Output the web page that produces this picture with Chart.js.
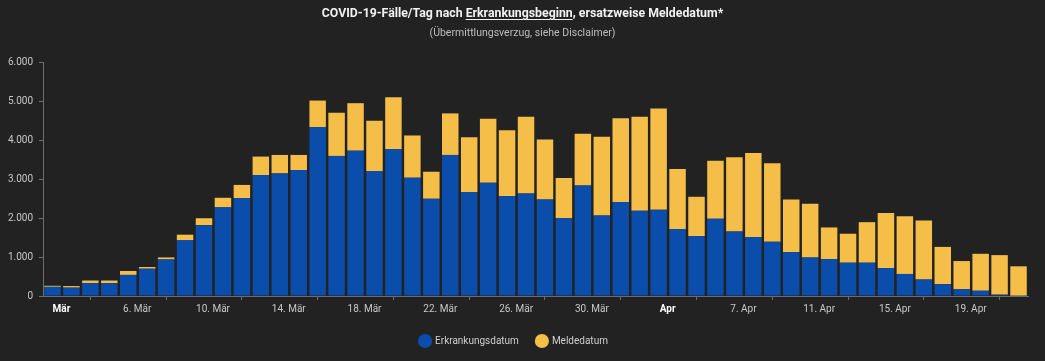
<!DOCTYPE html>
<html lang="de">
<head>
<meta charset="utf-8">
<script src="https://cdn.jsdelivr.net/npm/chart.js@4/dist/chart.umd.min.js"></script>
<style>
  html, body { margin: 0; padding: 0; background: #222222; }
  #wrap { position: relative; width: 1045px; height: 361px; }
  #title { position: absolute; top: 6px; left: 0; width: 1045px; text-align: center;
           font: bold 12.3px Roboto, sans-serif; color: #f2f2f2; }
  #title u { text-decoration-thickness: 1px; text-underline-offset: 2px; }
  #subtitle { position: absolute; top: 26px; left: 0; width: 1045px; text-align: center;
              font: 10.5px Roboto, sans-serif; color: #bdbdbd; }
</style>
</head>
<body>
<div id="wrap">
  <canvas id="chart" width="1045" height="361"></canvas>
  <div id="title">COVID-19-Fälle/Tag nach <u>Erkrankungsbeginn</u>, ersatzweise Meldedatum*</div>
  <div id="subtitle">(Übermittlungsverzug, siehe Disclaimer)</div>
</div>
<script>
// Tage (2. März bis 22. April)
const days = [
  '2. Mär', '3. Mär', '4. Mär', '5. Mär', '6. Mär', '7. Mär', '8. Mär', '9. Mär', '10. Mär',
  '11. Mär', '12. Mär', '13. Mär', '14. Mär', '15. Mär', '16. Mär', '17. Mär', '18. Mär',
  '19. Mär', '20. Mär', '21. Mär', '22. Mär', '23. Mär', '24. Mär', '25. Mär', '26. Mär',
  '27. Mär', '28. Mär', '29. Mär', '30. Mär', '31. Mär',
  '1. Apr', '2. Apr', '3. Apr', '4. Apr', '5. Apr', '6. Apr', '7. Apr', '8. Apr', '9. Apr',
  '10. Apr', '11. Apr', '12. Apr', '13. Apr', '14. Apr', '15. Apr', '16. Apr', '17. Apr',
  '18. Apr', '19. Apr', '20. Apr', '21. Apr', '22. Apr'
];

// Beschriftung jeder vierten Kategorie
const tickLabels = ['Mär', '6. Mär', '10. Mär', '14. Mär', '18. Mär', '22. Mär', '26. Mär',
  '30. Mär', 'Apr', '7. Apr', '11. Apr', '15. Apr', '19. Apr'];
const boldLabels = ['Mär', 'Apr'];

// Fälle nach Erkrankungsdatum
const erkrankung = [
  235, 215, 330, 330, 541, 700, 938, 1428, 1817, 2273, 2510, 3101, 3144, 3228, 4327, 3592,
  3727, 3203, 3761, 3034, 2493, 3617, 2662, 2907, 2561, 2628, 2476, 1994, 2831, 2062,
  2408, 2189, 2214, 1720, 1538, 1978, 1656, 1513, 1394, 1124, 989, 946, 854, 854, 718, 566,
  423, 304, 177, 135, 34, 5
];

// Fälle nach Meldedatum (ersatzweise)
const meldung = [
  27, 40, 67, 67, 101, 44, 51, 144, 177, 245, 338, 474, 473, 389, 684, 1107,
  1217, 1293, 1335, 1082, 693, 1065, 1411, 1640, 1690, 1969, 1538, 1031, 1327, 2020,
  2147, 2408, 2595, 1534, 1006, 1487, 1902, 2155, 2012, 1352, 1377, 812, 743, 1039, 1412, 1479,
  1512, 955, 719, 947, 1014, 756
];

const blue = '#0a4dab';
const yellow = '#f4be48';
const axisColor = '#6e6e6e';

function formatNumber(v) {
  return String(v).replace(/\B(?=(\d{3})+(?!\d))/g, '.');
}

function tickLabel(index) {
  if (index % 4 !== 0) return null;
  return tickLabels[index / 4];
}

const ctx = document.getElementById('chart').getContext('2d');

new Chart(ctx, {
  type: 'bar',
  data: {
    labels: days,
    datasets: [
      { label: 'Erkrankungsdatum', data: erkrankung, backgroundColor: blue, borderWidth: 0 },
      { label: 'Meldedatum', data: meldung, backgroundColor: yellow, borderWidth: 0 }
    ]
  },
  options: {
    responsive: false,
    animation: false,
    maintainAspectRatio: false,
    layout: { padding: { top: 62, right: 17, left: 0, bottom: 5 } },
    datasets: { bar: { categoryPercentage: 1, barPercentage: 0.87 } },
    plugins: {
      tooltip: { enabled: false },
      legend: {
        position: 'bottom',
        labels: {
          usePointStyle: true,
          pointStyle: 'circle',
          boxWidth: 10,
          boxHeight: 10,
          padding: 18,
          color: '#cfcfcf',
          font: { family: 'Roboto, sans-serif', size: 10 }
        }
      }
    },
    scales: {
      x: {
        stacked: true,
        border: { color: axisColor },
        grid: {
          offset: true,
          drawOnChartArea: false,
          tickLength: 4,
          color: axisColor
        },
        ticks: {
          autoSkip: false,
          maxRotation: 0,
          labelOffset: 9,
          padding: 3,
          color: (c) => boldLabels.includes(c.tick.label) ? '#ffffff' : '#c8c8c8',
          font: (c) => ({
            family: 'Roboto, sans-serif',
            size: 10,
            weight: boldLabels.includes(c.tick && c.tick.label) ? 'bold' : 'normal'
          }),
          callback: (value, index) => tickLabel(index)
        }
      },
      y: {
        stacked: true,
        min: 0,
        max: 6000,
        border: { color: axisColor },
        grid: { drawOnChartArea: false, tickLength: 4, color: axisColor },
        ticks: {
          stepSize: 1000,
          padding: 6,
          color: '#c8c8c8',
          font: { family: 'Roboto, sans-serif', size: 10 },
          callback: (v) => formatNumber(v)
        },
        afterFit: (scale) => { scale.width = 43; }
      }
    }
  }
});
</script>
</body>
</html>
